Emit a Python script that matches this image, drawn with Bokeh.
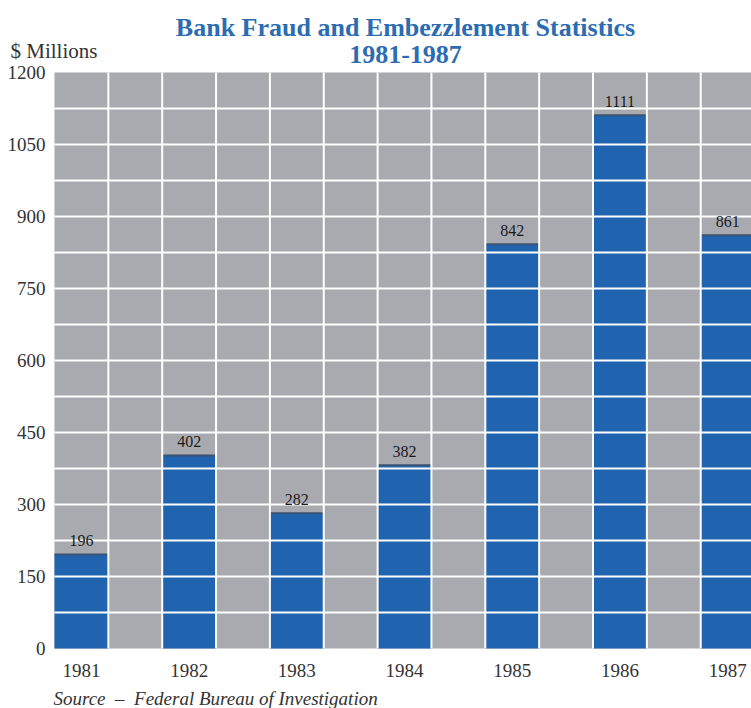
from bokeh.plotting import figure
from bokeh.models import Range1d, FixedTicker, Label, ColumnDataSource, BoxAnnotation
from bokeh.embed import file_html
from bokeh.resources import INLINE

years = ["1981", "1982", "1983", "1984", "1985", "1986", "1987"]
values = [196, 402, 282, 382, 842, 1111, 861]
y_ticks = [0, 150, 300, 450, 600, 750, 900, 1050, 1200]
y_grid_step = 75

BLUE = "#2064b0"
GRAY = "#a9aaaf"
TEXT = "#333333"
SERIF = "Liberation Serif"
TITLE_BLUE = "#2b6cb2"

W, H = 751, 708
FRAME_LEFT, FRAME_TOP, FRAME_BOTTOM = 54, 72, 648
PX_PER_X = 53.85
PX_PER_Y = (FRAME_BOTTOM - FRAME_TOP) / y_ticks[-1]


def dx(px):
    return (px - FRAME_LEFT) / PX_PER_X


def dy(py):
    return (FRAME_BOTTOM - py) / PX_PER_Y


# bar i occupies [2i, 2i+1]; gaps in between
n_cols = 2 * len(years)
xc = [2 * i + 0.5 for i in range(len(years))]
src = ColumnDataSource(dict(x=xc, x0=[c - 0.5 for c in xc], x1=[c + 0.5 for c in xc],
                            top=values, lab=[str(v) for v in values]))

p = figure(width=W, height=H, output_backend="svg", toolbar_location=None,
           x_range=Range1d(dx(0), dx(W)), y_range=Range1d(dy(H), dy(0)),
           min_border=0)
p.background_fill_color = "white"
p.border_fill_color = "white"
p.outline_line_color = None
p.xgrid.visible = False
p.ygrid.visible = False

# gray plotting field
p.add_layout(BoxAnnotation(left=0, bottom=y_ticks[0], top=y_ticks[-1], fill_color=GRAY,
                           fill_alpha=1, line_color=None, level="underlay"))

p.vbar(x="x", width=1, top="top", bottom=0, source=src, fill_color=BLUE, line_color=None)
p.segment(x0="x0", x1="x1", y0="top", y1="top", source=src, line_color="#3a5372", line_width=2)

# white grid over the field (inner lines only)
hy = list(range(y_ticks[0] + y_grid_step, y_ticks[-1], y_grid_step))
p.segment(x0=[0] * len(hy), x1=[n_cols] * len(hy), y0=hy, y1=hy, line_color="white", line_width=2)
vx = list(range(1, n_cols))
p.segment(x0=vx, x1=vx, y0=[y_ticks[0]] * len(vx), y1=[y_ticks[-1]] * len(vx),
          line_color="white", line_width=2)

p.text(x="x", y="top", text="lab", source=src, text_align="center", text_baseline="alphabetic",
       y_offset=-14, text_font_size="16px", text_color="#1a1a1a", text_font={"value": SERIF})

# axes drawn at fixed data locations
p.yaxis.fixed_location = 0
p.xaxis.fixed_location = 0
p.yaxis.ticker = FixedTicker(ticks=y_ticks)
p.xaxis.ticker = FixedTicker(ticks=xc)
p.xaxis.major_label_overrides = {c: y for c, y in zip(xc, years)}
for ax in (p.xaxis, p.yaxis):
    ax.axis_line_color = None
    ax.major_tick_line_color = None
    ax.minor_tick_line_color = None
    ax.major_tick_out = 0
    ax.major_tick_in = 0
    ax.minor_tick_out = 0
    ax.minor_tick_in = 0
    ax.major_label_text_font = SERIF
    ax.major_label_text_font_size = "19px"
    ax.major_label_text_color = TEXT
p.yaxis.major_label_standoff = 9
p.xaxis.major_label_standoff = 15

# texts
p.add_layout(Label(x=dx(405), y=dy(27), text="Bank Fraud and Embezzlement Statistics",
                   text_align="center", text_baseline="alphabetic", text_font=SERIF,
                   text_font_size="26px", text_font_style="bold", text_color=TITLE_BLUE))
p.add_layout(Label(x=dx(405), y=dy(54), text="1981-1987",
                   text_align="center", text_baseline="alphabetic", text_font=SERIF,
                   text_font_size="26px", text_font_style="bold", text_color=TITLE_BLUE))
p.add_layout(Label(x=dx(10), y=dy(50), text="$ Millions",
                   text_align="left", text_baseline="alphabetic", text_font=SERIF,
                   text_font_size="21px", text_color=TEXT))
p.add_layout(Label(x=dx(53), y=dy(698), text="Source \u00a0\u2013\u00a0 Federal Bureau of Investigation",
                   text_align="left", text_baseline="alphabetic", text_font=SERIF,
                   text_font_style="italic", text_font_size="19px", text_color=TEXT))

open("out.html", "w").write(file_html(p, INLINE))
